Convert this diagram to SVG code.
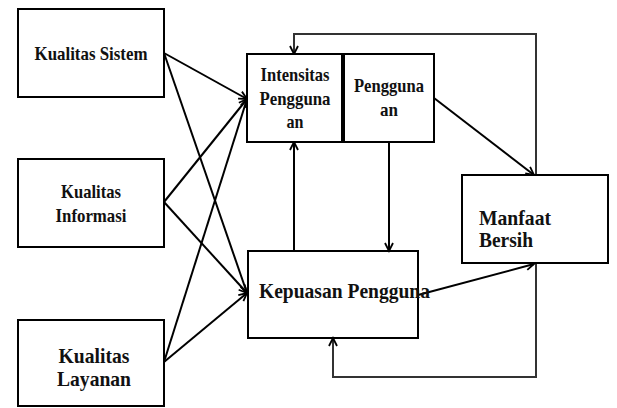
<svg xmlns="http://www.w3.org/2000/svg" width="617" height="408" viewBox="0 0 617 408">
<style>
.box{fill:#fff;stroke:#000;stroke-width:2}
.t{font-family:"Liberation Serif","Times New Roman",serif;font-weight:bold;fill:#111;text-anchor:middle}
.s17{font-size:19px}
.s20{font-size:21px}
.c{fill:none;stroke:#000;stroke-width:2}
.fb{fill:none;stroke:#333;stroke-width:2}
</style>
<defs>
<marker id="ah" markerUnits="userSpaceOnUse" markerWidth="12" markerHeight="12" refX="9" refY="5" orient="auto" viewBox="0 0 12 10">
<path d="M1,1 L9,5 L1,9" fill="none" stroke="#000" stroke-width="1.8"/>
</marker>
</defs>
<g id="connectors">
<line class="c" x1="164" y1="53" x2="247" y2="99" marker-end="url(#ah)"/>
<line class="c" x1="164" y1="53" x2="247" y2="293" marker-end="url(#ah)"/>
<line class="c" x1="164" y1="202" x2="247" y2="99" marker-end="url(#ah)"/>
<line class="c" x1="164" y1="202" x2="247" y2="293" marker-end="url(#ah)"/>
<line class="c" x1="164" y1="362" x2="247" y2="99" marker-end="url(#ah)"/>
<line class="c" x1="164" y1="362" x2="247" y2="293" marker-end="url(#ah)"/>
<line class="c" x1="294" y1="251" x2="294" y2="142" marker-end="url(#ah)"/>
<line class="c" x1="389" y1="142" x2="389" y2="251" marker-end="url(#ah)"/>
<line class="c" x1="434" y1="98" x2="534" y2="175" marker-end="url(#ah)"/>
<line class="c" x1="418" y1="295" x2="534" y2="264" marker-end="url(#ah)"/>
<polyline class="fb" points="536,175 536,34 294,34 294,54" marker-end="url(#ah)"/>
<polyline class="fb" points="536,263 536,377 333,377 333,338" marker-end="url(#ah)"/>
</g>
<g id="kualitas-sistem">
<rect class="box" x="18" y="9" width="146" height="88"/>
<text class="t s17" x="91" y="60" textLength="113" lengthAdjust="spacingAndGlyphs">Kualitas Sistem</text>
</g>
<g id="kualitas-informasi">
<rect class="box" x="18" y="159" width="146" height="88"/>
<text class="t s17" x="91" y="198" textLength="60" lengthAdjust="spacingAndGlyphs">Kualitas</text>
<text class="t s17" x="91" y="222" textLength="71" lengthAdjust="spacingAndGlyphs">Informasi</text>
</g>
<g id="kualitas-layanan">
<rect class="box" x="18" y="320" width="146" height="86"/>
<text class="t s20" x="94" y="363" textLength="71" lengthAdjust="spacingAndGlyphs">Kualitas</text>
<text class="t s20" x="94" y="386" textLength="74" lengthAdjust="spacingAndGlyphs">Layanan</text>
</g>
<g id="intensitas-penggunaan">
<rect class="box" x="247" y="54" width="95" height="88"/>
<text class="t s17" x="295" y="81" textLength="69" lengthAdjust="spacingAndGlyphs">Intensitas</text>
<text class="t s17" x="295" y="105" textLength="71" lengthAdjust="spacingAndGlyphs">Pengguna</text>
<text class="t s17" x="295" y="128" textLength="17" lengthAdjust="spacingAndGlyphs">an</text>
</g>
<g id="penggunaan">
<rect class="box" x="344" y="54" width="90" height="88"/>
<text class="t s17" x="389" y="92" textLength="70" lengthAdjust="spacingAndGlyphs">Pengguna</text>
<text class="t s17" x="389" y="116" textLength="18" lengthAdjust="spacingAndGlyphs">an</text>
</g>
<g id="kepuasan-pengguna">
<rect class="box" x="248" y="251" width="170" height="87" style="fill:none"/>
<text class="t s20" x="259" y="298" style="text-anchor:start" textLength="171" lengthAdjust="spacingAndGlyphs">Kepuasan Pengguna</text>
</g>
<g id="manfaat-bersih">
<rect class="box" x="462" y="175" width="146" height="88"/>
<text class="t s20" x="479" y="225" style="text-anchor:start" textLength="72" lengthAdjust="spacingAndGlyphs">Manfaat</text>
<text class="t s20" x="479" y="247" style="text-anchor:start" textLength="54" lengthAdjust="spacingAndGlyphs">Bersih</text>
</g>
</svg>
